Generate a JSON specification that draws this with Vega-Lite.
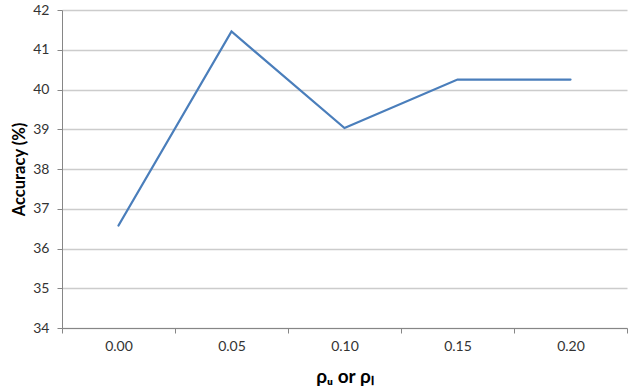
{
  "$schema": "https://vega.github.io/schema/vega-lite/v6.json",
  "width": 565,
  "height": 318,
  "autosize": {"type": "none"},
  "padding": {"left": 62, "top": 10, "right": 1, "bottom": 60},
  "background": "white",
  "data": {"values": [
    {"rho": 0.00, "accuracy": 36.58},
    {"rho": 0.05, "accuracy": 41.46},
    {"rho": 0.10, "accuracy": 39.03},
    {"rho": 0.15, "accuracy": 40.25},
    {"rho": 0.20, "accuracy": 40.25}
  ]},
  "config": {
    "view": {"stroke": null},
    "font": "Lato",
    "axis": {
      "labelFont": "Lato",
      "titleFont": "Lato",
      "labelColor": "#333333",
      "titleColor": "#000000",
      "domainColor": "#868686",
      "tickColor": "#868686",
      "domainWidth": 1,
      "tickWidth": 1
    }
  },
  "mark": {"type": "line", "color": "#4a7ebb", "strokeWidth": 2.25, "strokeCap": "round", "strokeJoin": "miter"},
  "encoding": {
    "x": {
      "field": "rho",
      "type": "quantitative",
      "scale": {"domain": [-0.025, 0.225], "nice": false, "zero": false},
      "axis": {
        "values": [-0.025, 0, 0.025, 0.05, 0.075, 0.1, 0.125, 0.15, 0.175, 0.2, 0.225],
        "labelExpr": "abs(round(datum.value*40)) % 2 == 0 ? format(datum.value, '.2f') : ''",
        "tickOpacity": {"condition": {"test": "abs(round(datum.value*40)) % 2 == 1", "value": 1}, "value": 0},
        "tickSize": 5,
        "grid": false,
        "labelFontSize": 14,
        "labelPadding": 6,
        "labelFlush": false,
        "labelOverlap": false,
        "title": "ρᵤ or ρₗ",
        "titleFontSize": 19,
        "titleFontWeight": "bold",
        "titleBaseline": "middle",
        "titleY": 48
      }
    },
    "y": {
      "field": "accuracy",
      "type": "quantitative",
      "scale": {"domain": [34, 42], "nice": false, "zero": false},
      "axis": {
        "values": [34, 35, 36, 37, 38, 39, 40, 41, 42],
        "grid": true,
        "gridColor": "#cccccc",
        "gridWidth": 1.5,
        "tickSize": 5,
        "labelFontSize": 14,
        "labelPadding": 8,
        "title": "Accuracy (%)",
        "titleFontSize": 16.5,
        "titleFontWeight": "bold",
        "titleBaseline": "middle",
        "titleX": -43,
        "titleY": 159
      }
    }
  }
}
